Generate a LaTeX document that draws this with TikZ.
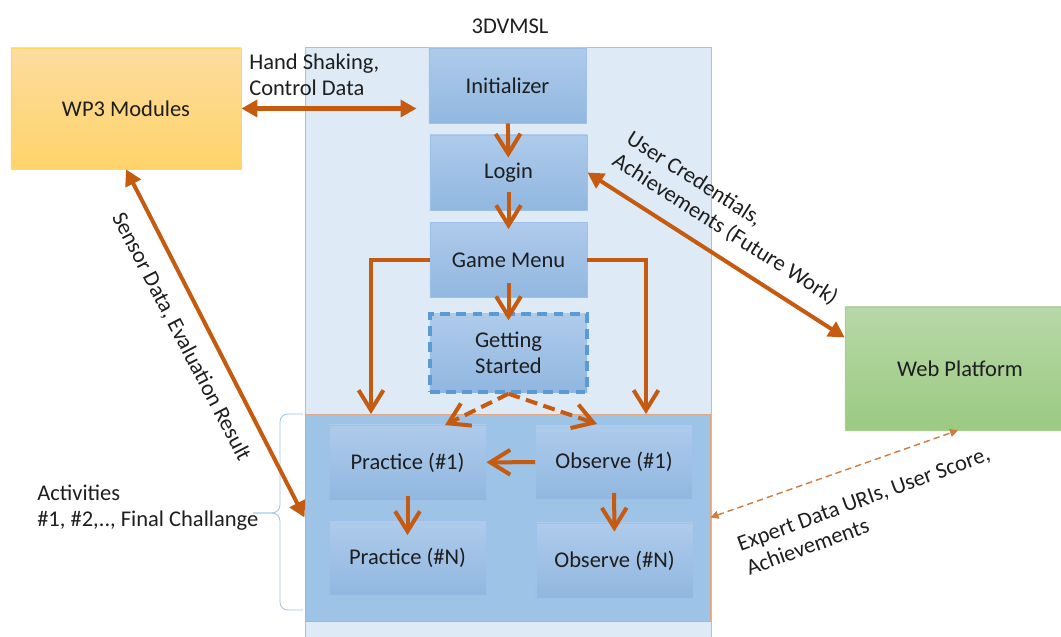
\documentclass[tikz,border=0pt]{standalone}
\usepackage{fontspec}
\setmainfont{Carlito}
\usetikzlibrary{arrows.meta}

\definecolor{flowor}{HTML}{C55A11}
\definecolor{stagetop}{HTML}{AECBEB}
\definecolor{stagebot}{HTML}{91B7E0}
\definecolor{stageline}{HTML}{9DC1E8}
\definecolor{shellfill}{HTML}{DEEBF7}
\definecolor{shellline}{HTML}{A9D18E}
\definecolor{actfill}{HTML}{9DC3E6}
\definecolor{actline}{HTML}{E2A683}
\definecolor{wptop}{HTML}{FDDC9E}
\definecolor{wpbot}{HTML}{FFD36A}
\definecolor{wpline}{HTML}{FFD966}
\definecolor{webtop}{HTML}{B7D8A7}
\definecolor{webbot}{HTML}{9BCA82}
\definecolor{webline}{HTML}{A9D18E}
\definecolor{dashblue}{HTML}{5B9BD5}
\definecolor{bracec}{HTML}{9DC3E6}
\definecolor{inktext}{HTML}{1E1E1E}

\begin{document}
\begin{tikzpicture}[x=0.025cm, y=-0.025cm, font=\fontsize{16}{18.5}\selectfont, text=inktext,
  stage/.style={draw=stageline, line width=0.6pt, top color=stagetop, bottom color=stagebot,
    minimum width=3.925cm, minimum height=1.875cm, inner sep=0pt, align=center},
  flow/.style={draw=flowor, line width=0.1cm, -{Straight Barb[length=0.5cm,width=0.62cm]}},
  link/.style={draw=flowor, line width=0.1cm,
    {Triangle[length=0.4cm,width=0.42cm]}-{Triangle[length=0.4cm,width=0.42cm]}},
  thinlink/.style={draw=flowor!80, line width=0.035cm, dash pattern=on 0.16cm off 0.1cm,
    {Triangle[length=0.2cm,width=0.2cm]}-{Triangle[length=0.2cm,width=0.2cm]}},
  bracepart/.style={draw=bracec, line width=0.6pt, rounded corners=0.2cm},
  lbl/.style={inner sep=0pt, align=left}]
  \useasboundingbox (0,0) rectangle (1061,637);

  \node[draw=shellline, fill=shellfill, line width=0.6pt, inner sep=0pt,
    minimum width=10.15cm, minimum height=14.75cm] (shell) at (508,342.5) {};
  \node (title) at (510,26) {3DVMSL};

  \node[draw=wpline, top color=wptop, bottom color=wpbot, minimum width=5.75cm,
    minimum height=3.025cm] (wp3) at (126,108.5) {WP3 Modules};
  \node[draw=webline, top color=webtop, bottom color=webbot, minimum width=5.75cm,
    minimum height=3.075cm] (web) at (960,368.5) {Web Platform};

  \node[stage] (init) at (507.5,85.5) {Initializer};
  \node[stage] (login) at (508.5,172.5) {Login};
  \node[stage] (menu) at (508.5,260) {Game Menu};
  \node[stage, minimum height=1.95cm, draw=dashblue, line width=2.5pt,
    dash pattern=on 7pt off 4.5pt] (start) at (508.5,353) {Getting\\Started};

  \node[draw=actline, fill=actfill, line width=0.6pt, inner sep=0pt,
    minimum width=10.125cm, minimum height=5.175cm] (acts) at (507.5,517.5) {};
  \node[stage] (prac1) at (407.5,462.5) {Practice (\#1)};
  \node[stage] (pracn) at (407.5,558) {Practice (\#N)};
  \node[stage] (obs1) at (614,462) {Observe (\#1)};
  \node[stage] (obsn) at (614.5,560.5) {Observe (\#N)};

  \draw[bracepart] (303,414) -- (280,414) -- (280,513) -- (253,513);
  \draw[bracepart] (253,513) -- (280,513) -- (280,610) -- (303,610);

  \node[lbl, anchor=west] (hslbl) at (249,75) {Hand Shaking,\\Control Data};
  \node[lbl, anchor=west] (actlbl) at (37,508) {Activities\\\#1, \#2,.., Final Challange};
  \node[lbl, rotate=-32.5] (uclbl) at (732,219) {User Credentials,\\Achievements (Future Work)};
  \node[lbl, rotate=-62.5] (sdlbl) at (181,337) {Sensor Data, Evaluation Result};
  \node[lbl, rotate=20] (edlbl) at (868,511) {Expert Data URIs, User Score,\\Achievements};

  \coordinate (lfoot) at (371,414);
  \coordinate (rfoot) at (646,414);
  \coordinate (ldash) at (445,425);
  \coordinate (rdash) at (597,424);

  \draw[flow, shorten >=-0.575cm] (init) -- (login);
  \draw[flow, shorten <=-0.45cm, shorten >=-0.175cm] (login) -- (menu);
  \draw[flow, shorten <=-0.375cm, shorten >=-0.2cm] (menu) -- (start);
  \draw[flow] (menu.west) -| (lfoot);
  \draw[flow] (menu.east) -| (rfoot);
  \draw[flow, dash pattern=on 0.3cm off 0.16cm] (start.south) -- (ldash);
  \draw[flow, dash pattern=on 0.3cm off 0.16cm] (start.south) -- (rdash);
  \draw[flow] (obs1) -- (prac1);
  \draw[flow, shorten <=-0.1cm, shorten >=-0.375cm] (prac1) -- (pracn);
  \draw[flow, shorten <=-0.175cm, shorten >=-0.225cm] (obs1) -- (obsn);

  \draw[link, shorten >=0.3cm] (wp3.east) -- (wp3.east -| init.west);
  \draw[link] (wp3.south) -- (acts.west);
  \draw[link] (login.east) -- ([yshift=0.775cm]web.west);
  \draw[thinlink] (acts.east) -- ([xshift=-0.05cm]web.south);
\end{tikzpicture}
\end{document}
